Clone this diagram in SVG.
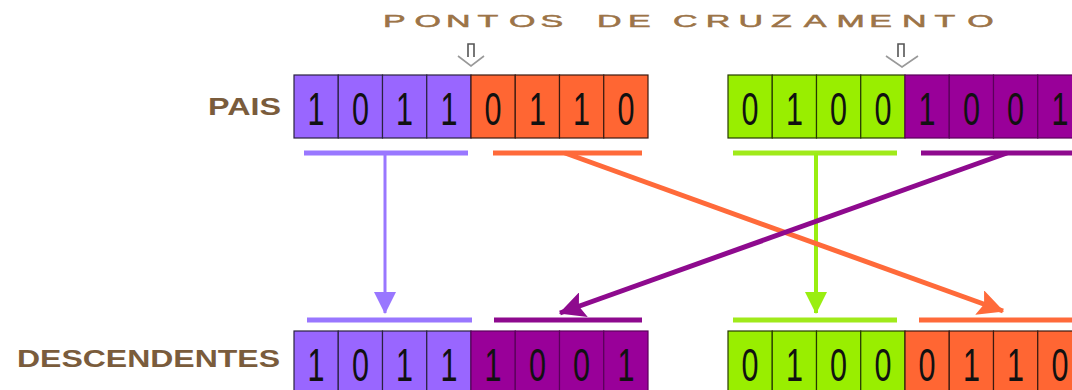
<svg xmlns="http://www.w3.org/2000/svg" width="1072" height="390" viewBox="0 0 1072 390">
<style>
.pu{fill:#9966FF;stroke:#2a2240;stroke-width:1.2}
.or{fill:#FF6633;stroke:#3a1a10;stroke-width:1.2}
.gr{fill:#99EE00;stroke:#263a00;stroke-width:1.2}
.dp{fill:#990099;stroke:#5a005a;stroke-width:1.2}
.dg{font-family:"Liberation Sans",Arial,sans-serif;font-size:46px;fill:#111}
.lbl{font-family:"Liberation Sans",Arial,sans-serif;font-weight:bold;font-size:24px;fill:#7A5C3C}
.ttl{font-family:"Liberation Sans",Arial,sans-serif;font-size:17px;fill:#9C7448;stroke:#9C7448;stroke-width:0.5}
.bar{stroke-width:5;fill:none}
.mk1{stroke:#555;stroke-width:1.6;fill:none}
.mk2{stroke:#999;stroke-width:1.6;fill:none}
</style>
<defs>
<marker id="hPu" markerUnits="userSpaceOnUse" viewBox="0 0 22 22" refX="21" refY="11" markerWidth="22" markerHeight="22" orient="auto"><path d="M0,0 L22,11 L0,22 Z" fill="#9977FF"/></marker>
<marker id="hGr" markerUnits="userSpaceOnUse" viewBox="0 0 22 22" refX="21" refY="11" markerWidth="22" markerHeight="22" orient="auto"><path d="M0,0 L22,11 L0,22 Z" fill="#99EE11"/></marker>
<marker id="hOr" markerUnits="userSpaceOnUse" viewBox="0 0 22 22" refX="21" refY="11" markerWidth="26" markerHeight="26" orient="auto"><path d="M0,0 L22,11 L0,22 L4,11 Z" fill="#FF6A3A"/></marker>
<marker id="hDp" markerUnits="userSpaceOnUse" viewBox="0 0 22 22" refX="21" refY="11" markerWidth="26" markerHeight="26" orient="auto"><path d="M0,0 L22,11 L0,22 L4,11 Z" fill="#8E0A8E"/></marker>
</defs>
<rect width="1072" height="390" fill="#FFFFFF"/>

<g id="title">
<text class="ttl" transform="scale(2,1)" y="27" x="191.5 207.25 223 238.75 254.5 270.25 280 298.5 314 327 336.5 352.85 369.2 385.55 401.9 418.25 434.6 450.95 467.3 483.65">PONTOS DE CRUZAMENTO</text>
</g>

<g id="cross1">
<path class="mk1" d="M468,57 V44 H474 V57"/>
<path class="mk2" d="M458,56 L471,66 L484,56"/>
</g>
<g id="cross2">
<path class="mk1" d="M898,57 V44 H904 V57"/>
<path class="mk2" d="M886,56 L902,67 L918,56"/>
</g>

<g id="label-pais"><text class="lbl" x="208" y="115" textLength="73" lengthAdjust="spacingAndGlyphs">PAIS</text></g>
<g id="label-descendentes"><text class="lbl" x="17" y="367" textLength="263" lengthAdjust="spacingAndGlyphs">DESCENDENTES</text></g>

<g id="parent1">
<rect class="pu" x="294" y="75" width="44.25" height="63"/>
<rect class="pu" x="338.25" y="75" width="44.25" height="63"/>
<rect class="pu" x="382.5" y="75" width="44.25" height="63"/>
<rect class="pu" x="426.75" y="75" width="44.25" height="63"/>
<rect class="or" x="471" y="75" width="44.25" height="63"/>
<rect class="or" x="515.25" y="75" width="44.25" height="63"/>
<rect class="or" x="559.5" y="75" width="44.25" height="63"/>
<rect class="or" x="603.75" y="75" width="44.25" height="63"/>
<text class="dg" x="307.6" y="125" textLength="17" lengthAdjust="spacingAndGlyphs">1</text>
<text class="dg" x="351.9" y="125" textLength="17" lengthAdjust="spacingAndGlyphs">0</text>
<text class="dg" x="396.1" y="125" textLength="17" lengthAdjust="spacingAndGlyphs">1</text>
<text class="dg" x="440.4" y="125" textLength="17" lengthAdjust="spacingAndGlyphs">1</text>
<text class="dg" x="484.6" y="125" textLength="17" lengthAdjust="spacingAndGlyphs">0</text>
<text class="dg" x="528.9" y="125" textLength="17" lengthAdjust="spacingAndGlyphs">1</text>
<text class="dg" x="573.1" y="125" textLength="17" lengthAdjust="spacingAndGlyphs">1</text>
<text class="dg" x="617.4" y="125" textLength="17" lengthAdjust="spacingAndGlyphs">0</text>
</g>

<g id="parent2">
<rect class="gr" x="728" y="75" width="44.25" height="63"/>
<rect class="gr" x="772.25" y="75" width="44.25" height="63"/>
<rect class="gr" x="816.5" y="75" width="44.25" height="63"/>
<rect class="gr" x="860.75" y="75" width="44.25" height="63"/>
<rect class="dp" x="905" y="75" width="44.25" height="63"/>
<rect class="dp" x="949.25" y="75" width="44.25" height="63"/>
<rect class="dp" x="993.5" y="75" width="44.25" height="63"/>
<rect class="dp" x="1037.75" y="75" width="44.25" height="63"/>
<text class="dg" x="741.6" y="125" textLength="17" lengthAdjust="spacingAndGlyphs">0</text>
<text class="dg" x="785.9" y="125" textLength="17" lengthAdjust="spacingAndGlyphs">1</text>
<text class="dg" x="830.1" y="125" textLength="17" lengthAdjust="spacingAndGlyphs">0</text>
<text class="dg" x="874.4" y="125" textLength="17" lengthAdjust="spacingAndGlyphs">0</text>
<text class="dg" x="918.6" y="125" textLength="17" lengthAdjust="spacingAndGlyphs">1</text>
<text class="dg" x="962.9" y="125" textLength="17" lengthAdjust="spacingAndGlyphs">0</text>
<text class="dg" x="1007.1" y="125" textLength="17" lengthAdjust="spacingAndGlyphs">0</text>
<text class="dg" x="1051.4" y="125" textLength="17" lengthAdjust="spacingAndGlyphs">1</text>
</g>

<g id="child1">
<rect class="pu" x="294" y="331" width="44.25" height="63"/>
<rect class="pu" x="338.25" y="331" width="44.25" height="63"/>
<rect class="pu" x="382.5" y="331" width="44.25" height="63"/>
<rect class="pu" x="426.75" y="331" width="44.25" height="63"/>
<rect class="dp" x="471" y="331" width="44.25" height="63"/>
<rect class="dp" x="515.25" y="331" width="44.25" height="63"/>
<rect class="dp" x="559.5" y="331" width="44.25" height="63"/>
<rect class="dp" x="603.75" y="331" width="44.25" height="63"/>
<text class="dg" x="307.6" y="381" textLength="17" lengthAdjust="spacingAndGlyphs">1</text>
<text class="dg" x="351.9" y="381" textLength="17" lengthAdjust="spacingAndGlyphs">0</text>
<text class="dg" x="396.1" y="381" textLength="17" lengthAdjust="spacingAndGlyphs">1</text>
<text class="dg" x="440.4" y="381" textLength="17" lengthAdjust="spacingAndGlyphs">1</text>
<text class="dg" x="484.6" y="381" textLength="17" lengthAdjust="spacingAndGlyphs">1</text>
<text class="dg" x="528.9" y="381" textLength="17" lengthAdjust="spacingAndGlyphs">0</text>
<text class="dg" x="573.1" y="381" textLength="17" lengthAdjust="spacingAndGlyphs">0</text>
<text class="dg" x="617.4" y="381" textLength="17" lengthAdjust="spacingAndGlyphs">1</text>
</g>

<g id="child2">
<rect class="gr" x="728" y="331" width="44.25" height="63"/>
<rect class="gr" x="772.25" y="331" width="44.25" height="63"/>
<rect class="gr" x="816.5" y="331" width="44.25" height="63"/>
<rect class="gr" x="860.75" y="331" width="44.25" height="63"/>
<rect class="or" x="905" y="331" width="44.25" height="63"/>
<rect class="or" x="949.25" y="331" width="44.25" height="63"/>
<rect class="or" x="993.5" y="331" width="44.25" height="63"/>
<rect class="or" x="1037.75" y="331" width="44.25" height="63"/>
<text class="dg" x="741.6" y="381" textLength="17" lengthAdjust="spacingAndGlyphs">0</text>
<text class="dg" x="785.9" y="381" textLength="17" lengthAdjust="spacingAndGlyphs">1</text>
<text class="dg" x="830.1" y="381" textLength="17" lengthAdjust="spacingAndGlyphs">0</text>
<text class="dg" x="874.4" y="381" textLength="17" lengthAdjust="spacingAndGlyphs">0</text>
<text class="dg" x="918.6" y="381" textLength="17" lengthAdjust="spacingAndGlyphs">0</text>
<text class="dg" x="962.9" y="381" textLength="17" lengthAdjust="spacingAndGlyphs">1</text>
<text class="dg" x="1007.1" y="381" textLength="17" lengthAdjust="spacingAndGlyphs">1</text>
<text class="dg" x="1051.4" y="381" textLength="17" lengthAdjust="spacingAndGlyphs">0</text>
</g>

<g id="bars">
<line class="bar" x1="304" y1="153" x2="468" y2="153" stroke="#9977FF"/>
<line class="bar" x1="493" y1="153" x2="642" y2="153" stroke="#FF6A3A"/>
<line class="bar" x1="733" y1="153" x2="897" y2="153" stroke="#A0EA1A"/>
<line class="bar" x1="921" y1="153" x2="1072" y2="153" stroke="#8E0A8E"/>
<line class="bar" x1="307" y1="320" x2="472" y2="320" stroke="#9977FF"/>
<line class="bar" x1="494" y1="320" x2="642" y2="320" stroke="#8E0A8E"/>
<line class="bar" x1="733" y1="320" x2="897" y2="320" stroke="#A0EA1A"/>
<line class="bar" x1="919" y1="320" x2="1072" y2="320" stroke="#FF6A3A"/>
</g>

<g id="connectors">
<line x1="385" y1="153" x2="385" y2="313" stroke="#9977FF" stroke-width="3" marker-end="url(#hPu)"/>
<line x1="816" y1="153" x2="816" y2="313" stroke="#99EE11" stroke-width="4" marker-end="url(#hGr)"/>
<line x1="565" y1="153" x2="1003" y2="311" stroke="#FF6A3A" stroke-width="5" marker-end="url(#hOr)"/>
<line x1="1007" y1="153" x2="560" y2="313" stroke="#8E0A8E" stroke-width="5" marker-end="url(#hDp)"/>
</g>
</svg>
